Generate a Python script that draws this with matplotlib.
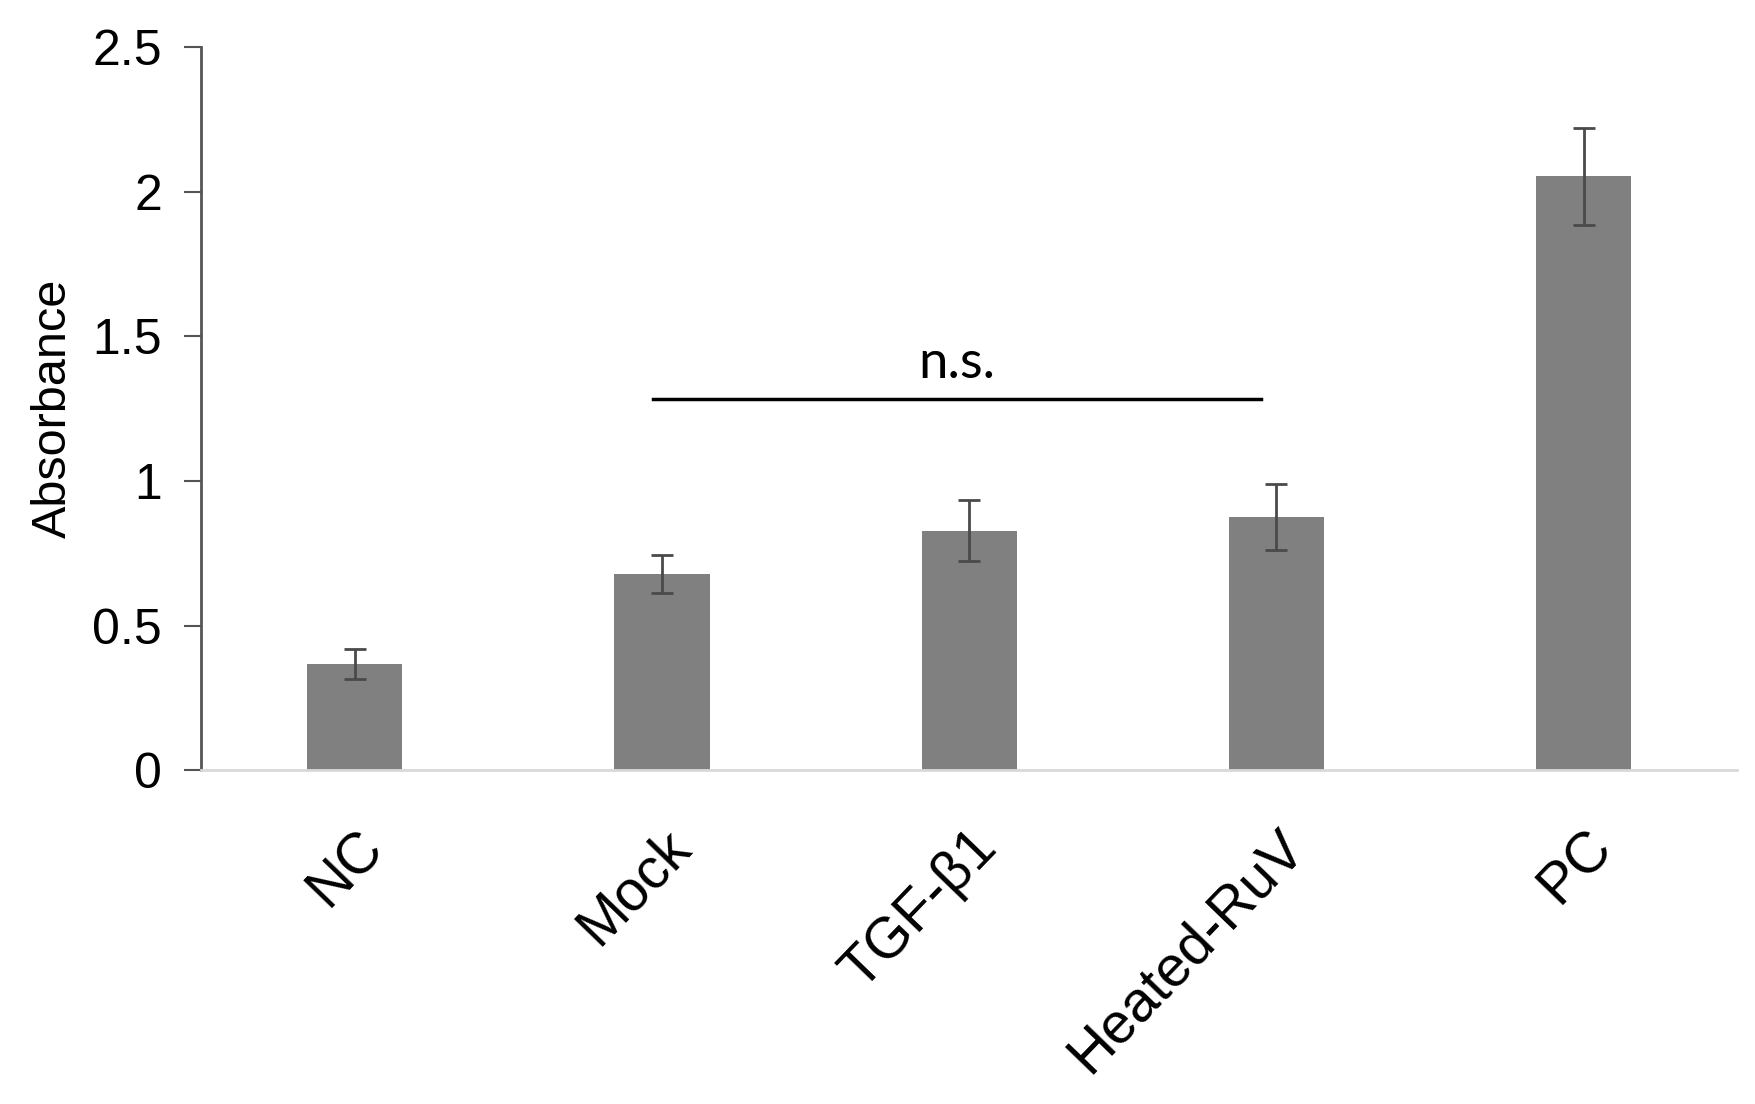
import matplotlib
matplotlib.use("Agg")
from matplotlib import pyplot as plt

categories = ["NC", "Mock", "TGF-β1", "Heated-RuV", "PC"]
absorbance = [0.368, 0.677, 0.828, 0.875, 2.055]
errors = [0.052, 0.066, 0.106, 0.113, 0.168]
yticks = [0, 0.5, 1, 1.5, 2, 2.5]
ytick_labels = ["0", "0.5", "1", "1.5", "2", "2.5"]
# bracket for the non-significant comparison (Mock .. Heated-RuV)
ns_from, ns_to, ns_level = 0.97, 2.95, 1.285

plt.rcParams["font.family"] = ["Liberation Sans", "DejaVu Sans"]

fig = plt.figure(figsize=(17.55, 11.04), dpi=100)
ax = fig.add_axes([0.1145, 0.3025, 0.8755, 0.6545])

x = list(range(len(categories)))
ax.bar(x, absorbance, width=0.31, color="#808080", zorder=2)
ax.errorbar(x, absorbance, yerr=errors, fmt="none", ecolor="#4a4a4a",
            elinewidth=2, capsize=8, capthick=2, zorder=3)

ax.set_xlim(-0.5, len(categories) - 0.5)
ax.set_ylim(0, 2.5)
ax.set_yticks(yticks)
ax.set_yticklabels(ytick_labels)
ax.set_xticks(x)
ax.set_xticklabels(categories, rotation=46, ha="right", va="top",
                   rotation_mode="anchor", fontsize=41)

ax.tick_params(axis="y", labelsize=36, length=12, width=1.5, color="#555555", pad=16)
ax.tick_params(axis="x", length=0, pad=36)

ax.spines[["top", "right"]].set_visible(False)
ax.spines["left"].set_color("#555555")
ax.spines["left"].set_linewidth(2)
ax.spines["bottom"].set_color("#d9d9d9")
ax.spines["bottom"].set_linewidth(2)

ax.set_ylabel("Absorbance", fontsize=35, labelpad=12)

ax.plot([ns_from, ns_to], [ns_level, ns_level], color="black", linewidth=2.5)
ax.text((ns_from + ns_to) / 2, ns_level + 0.04, "n.s.", ha="center", va="bottom",
        fontsize=38, family=["Lato", "DejaVu Sans"])

fig.savefig("out.png", dpi=100)
